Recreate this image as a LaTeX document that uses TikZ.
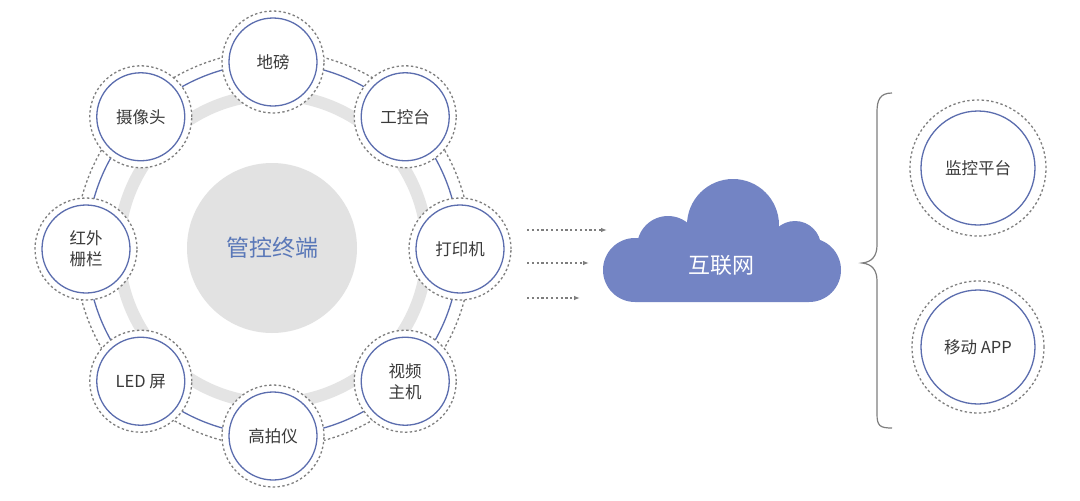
\documentclass[tikz,border=0pt]{standalone}
\usepackage{fontspec}
\setmainfont{Noto Sans CJK SC}
\usetikzlibrary{arrows.meta,calc}
\definecolor{ringblue}{HTML}{5B6DAE}
\definecolor{dashgray}{HTML}{7E7E7E}
\definecolor{ringgray}{HTML}{E4E4E4}
\definecolor{centergray}{HTML}{E2E2E2}
\definecolor{cloudblue}{HTML}{7384C4}
\definecolor{textgray}{HTML}{3A3A3A}
\definecolor{centertext}{HTML}{5A78B8}
\tikzset{
  outerdash/.style={draw=dashgray, line width=1.3pt, dash pattern=on 2.4pt off 2.4pt, fill=white},
  dev/.style={circle, draw=ringblue, line width=1.3pt, fill=white, minimum size=88pt, inner sep=0pt,
    text=textgray, font=\fontsize{16.5}{21}\selectfont, align=center},
  bigdev/.style={dev, minimum size=114pt},
  flowarrow/.style={draw=dashgray, line width=1.1pt, dash pattern=on 2.2pt off 2.6pt, -{Latex[length=6pt,width=4.5pt]}},
}
\begin{document}
\begin{tikzpicture}[x=1pt,y=-1pt]
\useasboundingbox (0,0) rectangle (1080,501);
\fill[white] (0,0) rectangle (1080,501);
% rings
\coordinate (c) at (273,249);
\draw[ringgray, line width=12pt] (c) circle[radius=154pt];
\draw[ringblue, line width=1.3pt] (c) circle[radius=186pt];
\draw[dashgray, line width=1.3pt, dash pattern=on 2.4pt off 2.4pt] (c) circle[radius=198pt];
\node[circle, fill=centergray, minimum size=170pt, inner sep=0pt, text=centertext,
  font=\fontsize{23}{26}\selectfont] (hub) at (272,248) {管控终端};
% device nodes
\foreach \ang/\nm/\txt in {90/dibang/地磅, 45/gkt/工控台, 0/dyj/打印机, -45/spzj/视频\\主机,
    -90/gpy/高拍仪, -135/led/LED 屏, 180/hwzl/红外\\栅栏, 135/sxt/摄像头}{
  \draw[outerdash] ($(c)+(\ang:187pt)$) circle[radius=51pt];
  \node[dev] (\nm) at ($(c)+(\ang:187pt)$) {\txt};
}
% cloud
\begin{scope}[cloudblue]
\fill[rounded corners=32pt] (603,238) rectangle (841,302);
\fill (668,247) circle[radius=31pt];
\fill (733,225) circle[radius=46pt];
\fill (795,247) circle[radius=26pt];
\fill (700,250) rectangle (800,270);
\end{scope}
\node[text=white, font=\fontsize{22}{24}\selectfont] (net) at (721,265) {互联网};
% arrows
\coordinate (a1s) at (527,230); \coordinate (a1e) at (607,230);
\coordinate (a2s) at (527,263); \coordinate (a2e) at (589,263);
\coordinate (a3s) at (527,298); \coordinate (a3e) at (580,298);
\draw[flowarrow] (a1s) -- (a1e);
\draw[flowarrow] (a2s) -- (a2e);
\draw[flowarrow] (a3s) -- (a3e);
% brace
\coordinate (bt) at (892,93); \coordinate (bm) at (862,263); \coordinate (bb) at (892,428);
\draw[dashgray, line width=1.2pt] (bt) .. controls (880,93) and (877,100) .. (877,112)
  -- (877,245) .. controls (877,256) and (872,262) .. (bm)
  .. controls (872,264) and (877,270) .. (877,281)
  -- (877,414) .. controls (877,426) and (880,428) .. (bb);
% right nodes
\draw[outerdash] (978,168) circle[radius=68pt];
\node[bigdev] (jk) at (978,168) {监控平台};
\draw[outerdash] (978,347) circle[radius=66pt];
\node[bigdev] (app) at (978,347) {移动 APP};
\end{tikzpicture}
\end{document}
